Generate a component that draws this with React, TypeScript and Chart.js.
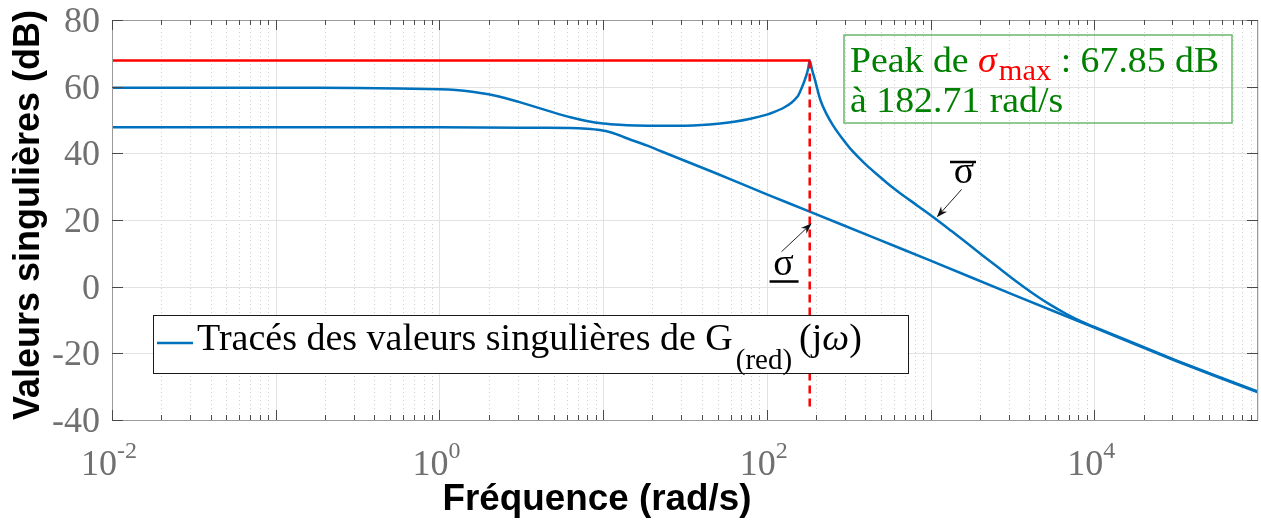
import React, { useEffect, useRef } from 'react';
import { Chart, registerables } from 'chart.js';

Chart.register(...registerables);

// ---------- data ----------
const upperFreq = [0.01, 0.1, 0.3162, 1, 1.259, 1.585, 1.995, 2.512, 3.162, 3.981, 5.012, 6.31, 7.943, 10, 12.59, 15.85, 22.39, 31.62, 39.81, 50.12, 63.1, 79.43, 100, 112.2, 125.9, 141.3, 154.9, 158.5, 166.0, 173.8, 178.6, 182.71, 189.7, 196.8, 211.3, 229.1, 254.1, 285.1, 322.1, 363.1, 407.4, 467.7, 539.5, 645.7, 831.8, 1096, 1349, 1660, 2089, 2630, 3311, 4266, 5370, 6761, 8318, 10000, 13183, 17378, 31623, 100000];
const upperDb = [59.7, 59.7, 59.6, 59.2, 59.0, 58.5, 57.7, 56.6, 55.2, 53.7, 52.2, 50.8, 49.7, 48.95, 48.55, 48.35, 48.25, 48.3, 48.5, 48.9, 49.5, 50.4, 51.6, 52.5, 53.6, 55.2, 57.2, 58.2, 60.5, 63.2, 65.3, 67.85, 64.7, 62.0, 56.3, 52.2, 48.3, 44.8, 41.5, 38.8, 36.4, 33.8, 31.2, 28.2, 24.3, 20.0, 16.6, 13.2, 9.3, 5.5, 1.7, -2.2, -5.4, -8.2, -10.4, -12.1, -14.5, -16.9, -22.1, -31.5];

const lowerFreq = [0.01, 1, 3.162, 6.31, 7.943, 9.55, 11.48, 13.8, 18.62, 22.39, 46.77, 100, 182.71, 446.7, 1000, 3162, 10000, 31623, 100000];
const lowerDb = [47.8, 47.8, 47.7, 47.6, 47.4, 47.0, 46.1, 44.6, 42.3, 40.7, 34.4, 27.7, 22.5, 14.8, 7.8, -2.3, -12.3, -22.3, -31.7];

const peakFreq = 182.71;
const peakDb = 67.85;
const freqStart = 0.01;
const freqEnd = 100000;
const dashBottomDb = -36;

const yMin = -40;
const yMax = 80;
const yStep = 20;
const yTickLabels = ['-40', '-20', '0', '20', '40', '60', '80'];
const xTickExponents = [-2, 0, 2, 4];
const xMajorExponents = [-2, -1, 0, 1, 2, 3, 4, 5];

const xTitle = 'Fréquence (rad/s)';
const yTitle = 'Valeurs singulières (dB)';
const legendMain = 'Tracés des valeurs singulières de G';
const legendSub = '(red)';
const annotLine1a = 'Peak de ';
const annotSigma = 'σ';
const annotSub = 'max';
const annotLine1b = ' : 67.85 dB';
const annotLine2 = 'à 182.71 rad/s';

// annotation anchors (data coordinates)
const sigMinArrowTail = { f: 123, db: 10.5 };
const sigMinArrowTip = { f: 188, db: 19.0 };
const sigMinLabel = { f: 126.5, db: 3.5 };
const sigMaxArrowTail = { f: 1549, db: 29.2 };
const sigMaxArrowTip = { f: 1091, db: 20.8 };
const sigMaxLabel = { f: 1600, db: 31.1 };

const BLUE = '#0072BD';
const RED = '#FF0000';
const SERIF = "'Liberation Serif', 'Times New Roman', serif";
const SANS = "'Liberation Sans', Arial, sans-serif";
const TICK_LABEL = '#707070';

function arrow(ctx: CanvasRenderingContext2D, x1: number, y1: number, x2: number, y2: number) {
  const ang = Math.atan2(y2 - y1, x2 - x1);
  const hl = 11, hw = 4;
  ctx.save();
  ctx.strokeStyle = '#222';
  ctx.fillStyle = '#111';
  ctx.lineWidth = 1;
  ctx.beginPath();
  ctx.moveTo(x1, y1);
  ctx.lineTo(x2 - Math.cos(ang) * hl * 0.7, y2 - Math.sin(ang) * hl * 0.7);
  ctx.stroke();
  ctx.beginPath();
  ctx.moveTo(x2, y2);
  ctx.lineTo(x2 - hl * Math.cos(ang) + hw * Math.sin(ang), y2 - hl * Math.sin(ang) - hw * Math.cos(ang));
  ctx.lineTo(x2 - hl * 0.7 * Math.cos(ang), y2 - hl * 0.7 * Math.sin(ang));
  ctx.lineTo(x2 - hl * Math.cos(ang) - hw * Math.sin(ang), y2 - hl * Math.sin(ang) + hw * Math.cos(ang));
  ctx.closePath();
  ctx.fill();
  ctx.restore();
}

function fitText(ctx: CanvasRenderingContext2D, text: string, cx: number, by: number, target: number) {
  const w = ctx.measureText(text).width;
  const s = target / w;
  ctx.save();
  ctx.translate(cx, by);
  ctx.scale(s, 1);
  ctx.textAlign = 'center';
  ctx.fillText(text, 0, 0);
  ctx.restore();
}

const decorPlugin = {
  id: 'decor',
  beforeDatasetsDraw(chart: any) {
    const { ctx, chartArea } = chart;
    const { left, right, top, bottom } = chartArea;
    const x = chart.scales.x;
    const y = chart.scales.y;
    ctx.save();
    ctx.lineWidth = 1;
    // minor x grid (dotted)
    ctx.strokeStyle = '#cfcfcf';
    ctx.setLineDash([1, 3]);
    for (let e = -2; e < 5; e++) {
      for (let k = 2; k < 10; k++) {
        const px = Math.round(x.getPixelForValue(k * Math.pow(10, e))) + 0.5;
        ctx.beginPath();
        ctx.moveTo(px, top);
        ctx.lineTo(px, bottom);
        ctx.stroke();
      }
    }
    ctx.setLineDash([]);
    ctx.strokeStyle = '#e2e2e2';
    for (const e of xMajorExponents) {
      const px = Math.round(x.getPixelForValue(Math.pow(10, e))) + 0.5;
      ctx.beginPath();
      ctx.moveTo(px, top);
      ctx.lineTo(px, bottom);
      ctx.stroke();
    }
    for (let v = yMin; v <= yMax; v += yStep) {
      const py = Math.round(y.getPixelForValue(v)) + 0.5;
      ctx.beginPath();
      ctx.moveTo(left, py);
      ctx.lineTo(right, py);
      ctx.stroke();
    }
    ctx.restore();
  },
  afterDatasetsDraw(chart: any) {
    const { ctx, chartArea } = chart;
    const { left, right, top, bottom } = chartArea;
    const x = chart.scales.x;
    const y = chart.scales.y;
    ctx.save();

    // axes box
    ctx.strokeStyle = '#9a9a9a';
    ctx.lineWidth = 1;
    ctx.strokeRect(Math.round(left) + 0.5, Math.round(top) + 0.5, Math.round(right - left) - 1, Math.round(bottom - top));

    // tick marks
    ctx.strokeStyle = '#4a4a4a';
    ctx.beginPath();
    for (let e = -2; e < 5; e++) {
      for (let k = 1; k < 10; k++) {
        const len = k === 1 ? 10 : 5;
        const px = Math.round(x.getPixelForValue(k * Math.pow(10, e))) + 0.5;
        ctx.moveTo(px, bottom);
        ctx.lineTo(px, bottom - len);
        ctx.moveTo(px, top);
        ctx.lineTo(px, top + len);
      }
    }
    for (let v = yMin; v <= yMax; v += yStep) {
      const py = Math.round(y.getPixelForValue(v)) + 0.5;
      ctx.moveTo(left, py);
      ctx.lineTo(left + 11, py);
      ctx.moveTo(right, py);
      ctx.lineTo(right - 11, py);
    }
    ctx.stroke();

    // y tick labels
    ctx.fillStyle = TICK_LABEL;
    ctx.font = `36px ${SERIF}`;
    ctx.textAlign = 'right';
    ctx.textBaseline = 'alphabetic';
    yTickLabels.forEach((lab, i) => {
      const py = y.getPixelForValue(yMin + i * yStep);
      ctx.fillText(lab, left - 12, py + 12);
    });

    // x tick labels with exponents
    ctx.textAlign = 'left';
    for (const e of xTickExponents) {
      const px = x.getPixelForValue(Math.pow(10, e));
      ctx.font = `36px ${SERIF}`;
      const w1 = ctx.measureText('10').width;
      ctx.font = `24px ${SERIF}`;
      const es = String(e);
      const w2 = ctx.measureText(es).width;
      const sx = px - (w1 + w2) / 2 - 3;
      ctx.font = `36px ${SERIF}`;
      ctx.fillText('10', sx, 475);
      ctx.font = `24px ${SERIF}`;
      ctx.fillText(es, sx + w1, 458);
    }

    // axis titles
    ctx.fillStyle = '#000';
    ctx.font = `bold 36px ${SANS}`;
    fitText(ctx, xTitle, 597, 510, 309);
    ctx.save();
    ctx.translate(39, 215);
    ctx.rotate(-Math.PI / 2);
    ctx.font = `bold 36px ${SANS}`;
    fitText(ctx, yTitle, 0, 0, 410);
    ctx.restore();

    // sigma annotations
    ctx.fillStyle = '#000';
    ctx.strokeStyle = '#000';
    ctx.font = `38px ${SERIF}`;
    ctx.textAlign = 'center';
    {
      const lx = x.getPixelForValue(sigMinLabel.f);
      const ly = y.getPixelForValue(sigMinLabel.db);
      ctx.fillText('σ', lx, ly);
      ctx.lineWidth = 2.5;
      ctx.beginPath();
      ctx.moveTo(lx - 14, ly + 6.5);
      ctx.lineTo(lx + 15, ly + 6.5);
      ctx.stroke();
      arrow(ctx, x.getPixelForValue(sigMinArrowTail.f), y.getPixelForValue(sigMinArrowTail.db), x.getPixelForValue(sigMinArrowTip.f), y.getPixelForValue(sigMinArrowTip.db));
    }
    {
      const lx = x.getPixelForValue(sigMaxLabel.f);
      const ly = y.getPixelForValue(sigMaxLabel.db);
      ctx.fillStyle = '#000';
      ctx.font = `38px ${SERIF}`;
      ctx.textAlign = 'center';
      ctx.fillText('σ', lx, ly);
      ctx.lineWidth = 2.5;
      ctx.strokeStyle = '#000';
      ctx.beginPath();
      ctx.moveTo(lx - 14, ly - 21);
      ctx.lineTo(lx + 12, ly - 21);
      ctx.stroke();
      arrow(ctx, x.getPixelForValue(sigMaxArrowTail.f), y.getPixelForValue(sigMaxArrowTail.db), x.getPixelForValue(sigMaxArrowTip.f), y.getPixelForValue(sigMaxArrowTip.db));
    }

    // legend
    ctx.textAlign = 'left';
    ctx.fillStyle = '#fff';
    ctx.fillRect(153, 315, 756, 58);
    ctx.strokeStyle = '#1a1a1a';
    ctx.lineWidth = 1;
    ctx.strokeRect(153.5, 315.5, 755, 58);
    ctx.strokeStyle = BLUE;
    ctx.lineWidth = 2.5;
    ctx.beginPath();
    ctx.moveTo(157, 343);
    ctx.lineTo(193, 343);
    ctx.stroke();
    ctx.fillStyle = '#000';
    ctx.font = `38px ${SERIF}`;
    ctx.fillText(legendMain, 197, 350);
    let cx = 197 + ctx.measureText(legendMain).width + 3;
    ctx.font = `29px ${SERIF}`;
    ctx.fillText(legendSub, cx, 369);
    cx += ctx.measureText(legendSub).width + 7;
    ctx.font = `38px ${SERIF}`;
    ctx.fillText('(j', cx, 350);
    cx += ctx.measureText('(j').width;
    ctx.font = `italic 38px ${SERIF}`;
    ctx.fillText('ω', cx, 350);
    cx += ctx.measureText('ω').width;
    ctx.font = `38px ${SERIF}`;
    ctx.fillText(')', cx, 350);

    // peak annotation box (transparent)
    ctx.strokeStyle = '#6cb86c';
    ctx.lineWidth = 1.5;
    ctx.strokeRect(844, 35, 388, 88);
    ctx.save();
    ctx.translate(850, 0);
    ctx.scale(1.05, 1);
    ctx.fillStyle = '#008000';
    ctx.font = `36px ${SERIF}`;
    let ax = 0;
    ctx.fillText(annotLine1a, ax, 72);
    ax += ctx.measureText(annotLine1a).width;
    ctx.fillStyle = RED;
    ctx.font = `italic 36px ${SERIF}`;
    ctx.fillText(annotSigma, ax, 72);
    ax += ctx.measureText(annotSigma).width + 2;
    ctx.font = `29px ${SERIF}`;
    ctx.fillText(annotSub, ax, 80);
    ax += ctx.measureText(annotSub).width;
    ctx.fillStyle = '#008000';
    ctx.font = `36px ${SERIF}`;
    ctx.fillText(annotLine1b, ax, 72);
    ctx.fillText(annotLine2, 0, 112);
    ctx.restore();

    ctx.restore();
  },
};

export default function App() {
  const ref = useRef<HTMLCanvasElement | null>(null);
  useEffect(() => {
    if (!ref.current) return;
    const upper = upperFreq.map((f, i) => ({ x: f, y: upperDb[i] }));
    const lower = lowerFreq.map((f, i) => ({ x: f, y: lowerDb[i] }));
    const chart = new Chart(ref.current, {
      type: 'line',
      data: {
        datasets: [
          {
            label: 'peak',
            data: [{ x: freqStart, y: peakDb }, { x: peakFreq, y: peakDb }],
            borderColor: RED,
            borderWidth: 2.5,
            pointRadius: 0,
          },
          {
            label: 'peakline',
            data: [{ x: peakFreq, y: peakDb }, { x: peakFreq, y: dashBottomDb }],
            borderColor: RED,
            borderWidth: 2.5,
            borderDash: [8, 5],
            pointRadius: 0,
          },
          {
            label: 'sigma max',
            data: upper,
            borderColor: BLUE,
            borderWidth: 2.5,
            pointRadius: 0,
            tension: 0.2,
            borderJoinStyle: 'round',
          },
          {
            label: 'sigma min',
            data: lower,
            borderColor: BLUE,
            borderWidth: 2.5,
            pointRadius: 0,
            tension: 0.25,
            borderJoinStyle: 'round',
          },
        ],
      },
      options: {
        responsive: false,
        animation: false,
        layout: { padding: { left: 0, top: 20, right: 3, bottom: 0 } },
        plugins: { legend: { display: false }, tooltip: { enabled: false } },
        scales: {
          x: {
            type: 'logarithmic',
            min: freqStart,
            max: freqEnd,
            grid: { display: false, drawTicks: false },
            border: { display: false },
            ticks: { display: false },
            afterFit: (s: any) => { s.height = 102; },
          },
          y: {
            type: 'linear',
            min: yMin,
            max: yMax,
            grid: { display: false, drawTicks: false },
            border: { display: false },
            ticks: { display: false, stepSize: yStep },
            afterFit: (s: any) => { s.width = 112; },
          },
        },
      },
      plugins: [decorPlugin],
    } as any);
    return () => chart.destroy();
  }, []);
  return (
    <div style={{ position: 'fixed', left: 0, top: 0, width: 1261, height: 522, background: '#fff' }}>
      <canvas ref={ref} width={1261} height={522} style={{ width: 1261, height: 522, display: 'block' }} />
    </div>
  );
}
